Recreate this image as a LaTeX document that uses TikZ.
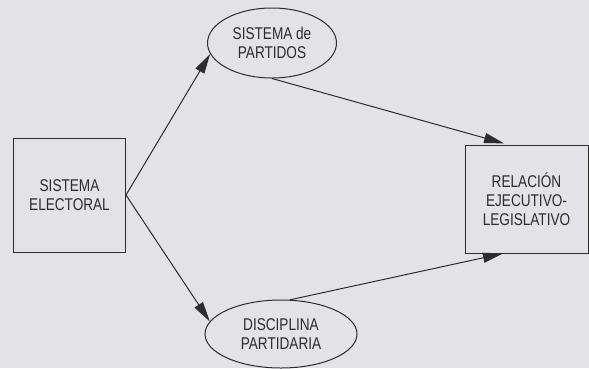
\documentclass[tikz,border=0pt]{standalone}
\usepackage{fontspec}
\setmainfont{Liberation Sans}[FakeStretch=0.8]
\usetikzlibrary{shapes.geometric, arrows.meta, calc}
\definecolor{paper}{RGB}{226,226,231}
\definecolor{ink}{RGB}{45,45,45}
\tikzset{
    block/.style={
        rectangle, draw=ink, line width=1pt,
        minimum width=112pt, minimum height=114pt,
        text=ink, align=center, font=\fontsize{17}{19}\selectfont
    },
    bubble/.style={
        ellipse, draw=ink, line width=1pt, inner sep=0pt,
        text=ink, align=center, font=\fontsize{17}{19}\selectfont
    },
    link/.style={draw=ink, line width=1pt, -{Triangle[length=20pt, width=10pt]}}
}

\begin{document}
\begin{tikzpicture}[x=1pt, y=-1pt]

% page
\fill[paper] (0,0) rectangle (589,368);
\useasboundingbox (0,0) rectangle (589,368);

% cause and effect
\node[block] (elec) at (69.5,195) {SISTEMA\\ELECTORAL};
\node[block, minimum width=123pt, minimum height=108pt] (rel) at (526.5,199) {RELACIÓN\\EJECUTIVO-\\LEGISLATIVO};

% intermediate variables
\node[bubble, minimum width=129pt, minimum height=70pt] (part) at (272,43) {SISTEMA de\\PARTIDOS};
\node[bubble, minimum width=152pt, minimum height=68pt] (disc) at (281,334) {DISCIPLINA\\PARTIDARIA};

\draw[link] (elec.east) -- (part.190);
\draw[link] (elec.east) -- (disc.170);
\draw[link, shorten >=4pt] (part.south) -- ($(rel.north west)!0.35!(rel.north east)$);
\draw[link] (disc.75) -- ($(rel.south west)!0.31!(rel.south east)$);

\end{tikzpicture}
\end{document}
